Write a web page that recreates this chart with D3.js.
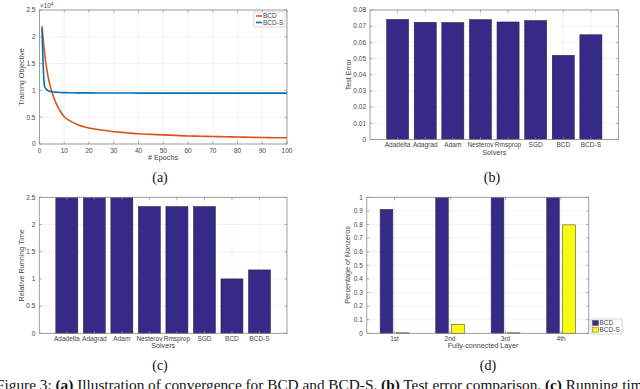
<!DOCTYPE html>
<html><head><meta charset="utf-8">
<script src="https://cdn.jsdelivr.net/npm/d3@7"></script>
<style>
body{margin:0;background:#fff;}
svg{display:block;}
</style></head>
<body>
<svg id="c" width="640" height="389"></svg>
<script>
// ---- data ----
const epochs = [1,2,3,4,5,6,7,8,9,10,12,14,16,18,20,25,30,35,40,45,50,55,60,65,70,75,80,85,90,95,100];
const bcdObj = [2.20,1.72,1.38,1.14,0.97,0.84,0.73,0.64,0.57,0.51,0.44,0.39,0.35,0.32,0.30,0.26,0.23,0.21,0.19,0.18,0.17,0.16,0.15,0.145,0.14,0.135,0.13,0.125,0.12,0.118,0.115];
const bcdSObj = [2.15,1.08,1.01,0.985,0.975,0.97,0.965,0.962,0.96,0.958,0.956,0.955,0.954,0.953,0.953,0.952,0.951,0.951,0.95,0.95,0.95,0.95,0.95,0.95,0.95,0.95,0.95,0.95,0.95,0.95,0.95];
const objTicks = [0,0.5,1,1.5,2,2.5];
const epochTicks = [0,10,20,30,40,50,60,70,80,90,100];

const solvers = ["Adadelta","Adagrad","Adam","Nesterov","Rmsprop","SGD","BCD","BCD-S"];
const testError = [0.0742,0.0724,0.0723,0.0741,0.0726,0.0735,0.0520,0.0647];
const errTicks = [0,0.01,0.02,0.03,0.04,0.05,0.06,0.07,0.08];
const runTime = [2.5,2.5,2.5,2.33,2.33,2.33,1.0,1.165];
const timeTicks = [0,0.5,1,1.5,2,2.5];

const layers = ["1st","2nd","3rd","4th"];
const nnzBCD = [0.912,1.0,1.0,1.0];
const nnzBCDS = [0.004,0.066,0.004,0.797];
const nnzTicks = [0,0.1,0.2,0.3,0.4,0.5,0.6,0.7,0.8,0.9,1];

const svg = d3.select("#c");
const FONT = "'Liberation Sans', Arial, sans-serif";
const TXT = "#444";
const BOX = "#8a8a8a";
const GRID = "#ebebeb";
const DARK = "#352a87", YEL = "#f9fb0e", ORANGE = "#d95319", BLUE = "#0072bd";
const TFS = 6.5;

function frame(g, x, y, xt, yt) {
  const [x0,x1] = x.range(), [y0,y1] = y.range();
  g.selectAll(null).data(xt).join("line")
     .attr("x1",d=>x(d)).attr("x2",d=>x(d)).attr("y1",y0).attr("y2",y1)
     .attr("stroke",GRID).attr("stroke-width",0.6);
  g.selectAll(null).data(yt).join("line")
     .attr("x1",x0).attr("x2",x1).attr("y1",d=>y(d)).attr("y2",d=>y(d))
     .attr("stroke",GRID).attr("stroke-width",0.6);
}
function box(g, x, y, xt, yt, xlabels, xoff) {
  const [x0,x1] = x.range(), [y0,y1] = y.range();
  g.append("rect").attr("x",x0).attr("y",y1).attr("width",x1-x0).attr("height",y0-y1)
   .attr("fill","none").attr("stroke",BOX).attr("stroke-width",0.8);
  const tl = 2.5;
  g.selectAll(null).data(yt).join("line").attr("x1",x0).attr("x2",x0+tl).attr("y1",d=>y(d)).attr("y2",d=>y(d)).attr("stroke",BOX).attr("stroke-width",0.7);
  g.selectAll(null).data(yt).join("line").attr("x1",x1).attr("x2",x1-tl).attr("y1",d=>y(d)).attr("y2",d=>y(d)).attr("stroke",BOX).attr("stroke-width",0.7);
  g.selectAll(null).data(xt).join("line").attr("x1",d=>x(d)).attr("x2",d=>x(d)).attr("y1",y0).attr("y2",y0-tl).attr("stroke",BOX).attr("stroke-width",0.7);
  g.selectAll(null).data(xt).join("line").attr("x1",d=>x(d)).attr("x2",d=>x(d)).attr("y1",y1).attr("y2",y1+tl).attr("stroke",BOX).attr("stroke-width",0.7);
  g.selectAll(null).data(yt).join("text").attr("x",x0-4).attr("y",d=>y(d)+2.3)
   .attr("text-anchor","end").attr("font-size",TFS).attr("font-family",FONT).attr("fill",TXT)
   .text(d=>d);
  g.selectAll(null).data(xt).join("text").attr("x",d=>x(d)).attr("y",y0+xoff)
   .attr("text-anchor","middle").attr("font-size",TFS).attr("font-family",FONT).attr("fill",TXT)
   .text((d,i)=>xlabels ? xlabels[i] : d);
}
function labels(g, xl, xx, xy, yl, yx, yy) {
  g.append("text").attr("x",xx).attr("y",xy).attr("text-anchor","middle")
   .attr("font-size",7.2).attr("font-family",FONT).attr("fill",TXT).text(xl);
  g.append("text").attr("transform",`translate(${yx},${yy}) rotate(-90)`).attr("text-anchor","middle")
   .attr("font-size",7.2).attr("font-family",FONT).attr("fill",TXT).text(yl);
}
function sub(t, x, y) {
  svg.append("text").attr("x",x).attr("y",y).attr("text-anchor","middle")
   .attr("font-size",14).attr("font-family","'Liberation Serif', 'Times New Roman', serif").attr("fill","#111").text(t);
}

// ---- (a) ----
{
  const g = svg.append("g");
  const x = d3.scaleLinear().domain([0,100]).range([39.5,287]);
  const y = d3.scaleLinear().domain([0,2.5]).range([144,10]);
  frame(g,x,y,epochTicks,objTicks);
  const line = d3.line().x(d=>x(d[0])).y(d=>y(d[1])).curve(d3.curveMonotoneX);
  g.append("path").attr("d",line(epochs.map((e,i)=>[e,bcdObj[i]]))).attr("fill","none").attr("stroke",ORANGE).attr("stroke-width",1.6);
  g.append("path").attr("d",line(epochs.map((e,i)=>[e,bcdSObj[i]]))).attr("fill","none").attr("stroke",BLUE).attr("stroke-width",1.6);
  box(g,x,y,epochTicks,objTicks,null,8.5);
  g.append("text").attr("x",40).attr("y",8).attr("font-size",6.3).attr("font-family",FONT).attr("fill",TXT)
   .html("×10<tspan dy='-2.5' font-size='4.8'>4</tspan>");
  labels(g,"# Epochs",163,159.5,"Training Objective",24,77);
  const lg = g.append("g");
  lg.append("rect").attr("x",254).attr("y",12).attr("width",31).attr("height",15).attr("fill","#fff").attr("stroke","#bbb").attr("stroke-width",0.6);
  [["BCD",ORANGE],["BCD-S",BLUE]].forEach((d,i)=>{
    lg.append("line").attr("x1",256).attr("x2",262).attr("y1",16+i*6.5).attr("y2",16+i*6.5).attr("stroke",d[1]).attr("stroke-width",1.6);
    lg.append("text").attr("x",263).attr("y",18.3+i*6.5).attr("font-size",6.5).attr("font-family",FONT).attr("fill",TXT).text(d[0]);
  });
  sub("(a)",160,182);
}

// ---- bar panels (b), (c) ----
function barPanel(vals, ticks, ymax, xr, yr, ylab, ylx) {
  const g = svg.append("g");
  const idx = d3.range(1, solvers.length+1);
  const x = d3.scaleLinear().domain([0, solvers.length+1]).range(xr);
  const y = d3.scaleLinear().domain([0,ymax]).range(yr);
  frame(g,x,y,idx,ticks);
  const bw = (x(1)-x(0))*0.8;
  g.selectAll(null).data(vals).join("rect")
   .attr("x",(d,i)=>x(i+1)-bw/2).attr("width",bw)
   .attr("y",d=>y(d)).attr("height",d=>y(0)-y(d))
   .attr("fill",DARK).attr("stroke","#222").attr("stroke-width",0.5);
  box(g,x,y,idx,ticks,solvers,7.5);
  labels(g,"Solvers",(xr[0]+xr[1])/2,yr[0]+15,ylab,ylx,(yr[0]+yr[1])/2);
  return g;
}
barPanel(testError, errTicks, 0.08, [370,618.5], [139.5,10], "Test Error", 350.5);
sub("(b)",492,182);
barPanel(runTime, timeTicks, 2.5, [39.3,287], [333.3,197.3], "Relative Running Time", 23.5);
sub("(c)",160,370);

// ---- (d) ----
{
  const g = svg.append("g");
  const x = d3.scaleLinear().domain([0.5,4.5]).range([366.8,588.8]);
  const y = d3.scaleLinear().domain([0,1]).range([333.3,197.3]);
  const idx = [1,2,3,4];
  frame(g,x,y,idx,nnzTicks);
  const bw = (x(1)-x(0))*0.23, off = (x(1)-x(0))*0.145;
  [[nnzBCD,DARK,-1],[nnzBCDS,YEL,1]].forEach(([vals,col,s])=>{
    g.selectAll(null).data(vals).join("rect")
     .attr("x",(d,i)=>x(i+1)+s*off-bw/2).attr("width",bw)
     .attr("y",d=>y(d)).attr("height",d=>y(0)-y(d))
     .attr("fill",col).attr("stroke","#333").attr("stroke-width",0.5);
  });
  box(g,x,y,idx,nnzTicks,layers,7.8);
  labels(g,"Fully-connected Layer",483,348,"Percentage of Nonzeros",349.5,265);
  const lg = g.append("g");
  lg.append("rect").attr("x",591).attr("y",319).attr("width",31).attr("height",15).attr("fill","#fff").attr("stroke","#bbb").attr("stroke-width",0.6);
  [["BCD",DARK],["BCD-S",YEL]].forEach((d,i)=>{
    lg.append("rect").attr("x",592.5).attr("y",320.5+i*6.6).attr("width",6).attr("height",5).attr("fill",d[1]).attr("stroke","#333").attr("stroke-width",0.4);
    lg.append("text").attr("x",599.5).attr("y",325.3+i*6.6).attr("font-size",6.5).attr("font-family",FONT).attr("fill",TXT).text(d[0]);
  });
  sub("(d)",488,370);
}

// ---- caption ----
{
  const t = svg.append("text").attr("x",-4).attr("y",390).attr("font-size",15.3)
    .attr("font-family","'Liberation Serif', 'Times New Roman', serif").attr("fill","#111");
  const parts = [["Figure 3: ",false],["(a)",true],[" Illustration of convergence for BCD and BCD-S. ",false],["(b)",true],[" Test error comparison. ",false],["(c)",true],[" Running time comparison.",false]];
  parts.forEach(([s,b])=>t.append("tspan").attr("font-weight",b?"bold":"normal").text(s));
}
</script>
</body></html>
